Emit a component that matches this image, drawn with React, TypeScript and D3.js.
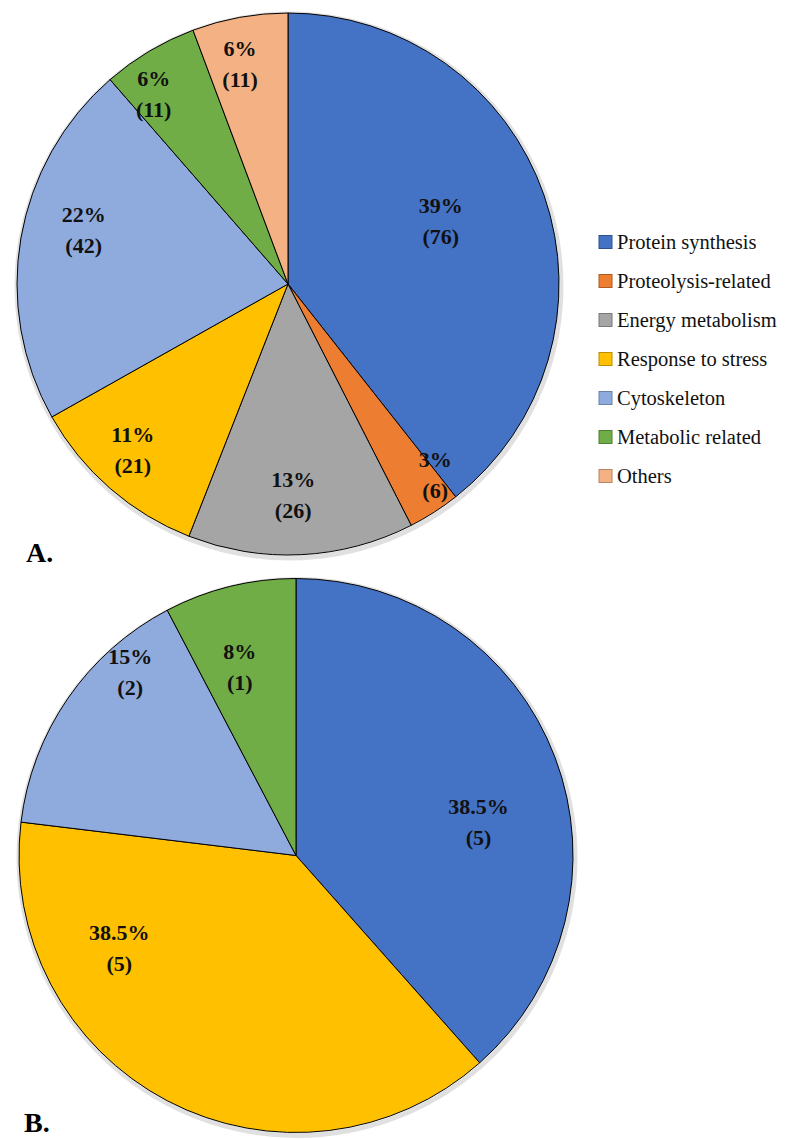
import React from "react";
import * as d3 from "d3";

const categories = [
  "Protein synthesis",
  "Proteolysis-related",
  "Energy metabolism",
  "Response to stress",
  "Cytoskeleton",
  "Metabolic related",
  "Others",
];
const colors = ["#4472C4", "#ED7D31", "#A5A5A5", "#FFC000", "#8FAADC", "#70AD47", "#F4B183"];
const legendBorders = ["#2F528F", "#AE5A21", "#787878", "#BC8C00", "#6A82A8", "#507E32", "#B38565"];

// Chart A
const catsA = [0, 1, 2, 3, 4, 5, 6];
const valuesA = [76, 6, 26, 21, 42, 11, 11];
const pctA = ["39%", "3%", "13%", "11%", "22%", "6%", "6%"];
// label placement (angle deg clockwise from top, radius fraction)
const labelAngA = [67.5, 142.4, 178.6, 223, 284.8, 324.8, 347.7];
const labelRadA = [0.61, 0.89, 0.78, 0.84, 0.78, 0.86, 0.83];

// Chart B
const catsB = [0, 3, 4, 5];
const valuesB = [5, 5, 2, 1];
const pctB = ["38.5%", "38.5%", "15%", "8%"];
const labelAngB = [79.7, 242.4, 317.9, 343.4];
const labelRadB = [0.67, 0.72, 0.893, 0.71];

const FONT = "'Liberation Serif', 'Times New Roman', serif";

function Pie({ cx, cy, r, cats, values, pcts, angs, rads }: any) {
  const pie = d3.pie<number>().sort(null).value((d) => d)(values);
  const arc = d3.arc<any>().innerRadius(0).outerRadius(r);
  return (
    <g transform={`translate(${cx},${cy})`}>
      <circle r={r + 1} fill="none" stroke="#000" strokeOpacity={0.12} strokeWidth={5} transform="translate(1,2)" />
      {pie.map((p, i) => (
        <path key={i} d={arc(p) as string} fill={colors[cats[i]]} stroke="#000" strokeWidth={1} />
      ))}
      {pie.map((p, i) => {
        const a = (angs[i] * Math.PI) / 180;
        const x = Math.sin(a) * r * rads[i];
        const y = -Math.cos(a) * r * rads[i];
        return (
          <text key={"t" + i} x={x} y={y} textAnchor="middle" fontFamily={FONT} fontWeight="bold" fontSize={22} fill="#111">
            <tspan x={x} dy={-8}>{pcts[i]}</tspan>
            <tspan x={x} dy={31}>({values[i]})</tspan>
          </text>
        );
      })}
    </g>
  );
}

export default function App() {
  return (
    <svg width={800} height={1139} style={{ position: "absolute", left: 0, top: 0 }}>
      <rect width={800} height={1139} fill="#fff" />
      <Pie cx={288} cy={284} r={271} cats={catsA} values={valuesA} pcts={pctA} angs={labelAngA} rads={labelRadA} />
      <Pie cx={296} cy={855.5} r={277} cats={catsB} values={valuesB} pcts={pctB} angs={labelAngB} rads={labelRadB} />
      {categories.map((c, i) => (
        <g key={c} transform={`translate(599,${242 + i * 39})`}>
          <rect x={0} y={-6.5} width={13} height={13} fill={colors[i]} stroke={legendBorders[i]} strokeWidth={1} />
          <text x={18} y={7} fontFamily={FONT} fontSize={20.5} fill="#111">{c}</text>
        </g>
      ))}
      <text x={26} y={562} fontFamily={FONT} fontWeight="bold" fontSize={28} fill="#000">A.</text>
      <text x={24} y={1132} fontFamily={FONT} fontWeight="bold" fontSize={28} fill="#000">B.</text>
    </svg>
  );
}
